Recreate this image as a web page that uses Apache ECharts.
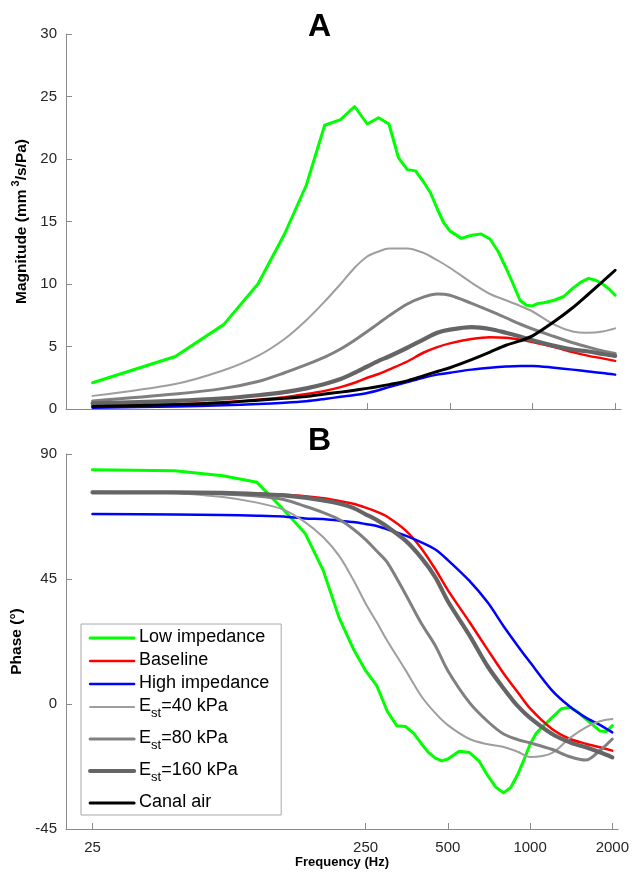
<!DOCTYPE html>
<html><head><meta charset="utf-8">
<script src="https://cdn.jsdelivr.net/npm/echarts@6/dist/echarts.min.js"></script>
<style>html,body{margin:0;padding:0;background:#fff}#c{width:632px;height:875px}</style>
</head><body><div id="c"></div>
<script>
// ---------- data ----------
const freq = [25,50,75,100,125,150,175,200,225,250,275,300,350,400,450,500,600,700,800,900,1000,1200,1400,1600,1800,2000];
const freqGreen = [25,50,75,100,125,150,175,200,225,250,275,300,325,350,375,400,425,450,475,500,550,600,650,700,750,800,850,900,950,1000,1050,1100,1200,1300,1400,1500,1600,1700,1800,1900,2000];
const xTicks = [25,250,500,1000,2000];
const seriesNames = ['Low impedance','Baseline','High impedance','Est=40 kPa','Est=80 kPa','Est=160 kPa','Canal air'];

// Magnitude (mm^3/s/Pa)
const magLow = [2.1,4.2,6.75,10.0,14.0,17.9,22.7,23.15,24.2,22.8,23.3,22.8,20.1,19.15,19.05,18.2,17.3,16.0,14.9,14.25,13.65,13.9,14.0,13.6,12.6,11.3,10.0,8.7,8.3,8.25,8.45,8.5,8.7,9.0,9.65,10.15,10.45,10.3,10.0,9.6,9.1];
const magBase = [0.22,0.38,0.55,0.75,0.95,1.2,1.45,1.75,2.1,2.5,2.8,3.15,3.8,4.5,4.95,5.25,5.6,5.75,5.7,5.55,5.35,4.95,4.55,4.25,4.05,3.85];
const magHigh = [0.1,0.2,0.3,0.4,0.5,0.62,0.8,0.98,1.12,1.28,1.5,1.75,2.15,2.5,2.75,2.9,3.15,3.3,3.4,3.45,3.45,3.3,3.15,3.0,2.88,2.75];
const magE40 = [1.05,2.0,3.1,4.25,5.6,7.1,8.6,10.0,11.3,12.2,12.6,12.85,12.85,12.5,11.9,11.3,10.1,9.2,8.7,8.25,7.8,6.75,6.2,6.1,6.2,6.45];
const magE80 = [0.65,1.2,1.65,2.2,2.9,3.55,4.15,4.8,5.5,6.2,6.85,7.45,8.4,8.95,9.2,9.1,8.45,7.85,7.3,6.8,6.4,5.8,5.3,4.95,4.65,4.45];
const magE160 = [0.45,0.65,0.85,1.1,1.35,1.65,2.0,2.4,2.9,3.4,3.85,4.2,4.9,5.55,6.1,6.35,6.55,6.4,6.1,5.8,5.5,5.05,4.75,4.6,4.4,4.25];
const magCanal = [0.2,0.35,0.5,0.7,0.85,1.0,1.2,1.35,1.5,1.65,1.8,1.95,2.25,2.65,3.0,3.3,3.95,4.55,5.1,5.45,5.85,7.0,8.1,9.2,10.2,11.1];

// Phase (deg)
const phLow = [84.3,84.0,82.2,79.8,70,61.5,48,31,20,12,6.5,-2.6,-7.8,-8.1,-10.6,-14.3,-17.5,-19.5,-20.5,-19.8,-17.0,-17.5,-20.5,-25.8,-30.0,-32.0,-30.0,-25.5,-20.0,-14.5,-10.7,-8.6,-5.0,-1.7,-1.2,-3.0,-5.4,-7.6,-9.7,-9.9,-7.8];
const phBase = [76.2,76.2,76.0,75.7,75.3,74.8,74.1,73.1,72.1,70.7,69.2,67.4,62.5,56,48.5,41,29.5,19.5,11,4.3,-1.6,-8.9,-12.6,-14.3,-15.6,-16.8];
const phHigh = [68.4,68.2,68.0,67.8,67.5,66.8,66.6,66.0,65.5,64.8,64.1,62.9,60.6,58.2,55.6,51.8,44.3,36.5,28,21,15,5,-1.0,-4.9,-7.5,-10.2];
const phE40 = [76.2,75.9,74.5,72.5,70.0,65.5,60.0,53.3,44.8,36.2,29.3,22.8,12.2,2.8,-3.3,-7.6,-12.6,-14.5,-15.5,-17.2,-19.1,-17.7,-12.2,-8.4,-6.2,-5.4];
const phE80 = [76.2,76.1,75.6,74.9,73.6,71.2,68.9,66.4,63,59.2,55,51,39.5,29,21,12,0.5,-6.3,-10.8,-12.8,-14.0,-16.3,-19.0,-20.2,-16.8,-12.6];
const phE160 = [76.2,76.2,76.0,75.6,75.1,74.3,73.3,72.2,70.6,68.3,66.2,63.8,58.8,52.6,45.6,37,24.7,13.5,5.6,-0.7,-5.0,-10.7,-13.8,-15.6,-17.4,-19.2];

// ---------- styles ----------
const FONT = '"Liberation Sans", Arial, Helvetica, sans-serif';
const AXIS_GRAY = '#8a8a8a';
const lineStyles = {
  'Low impedance': {color:'#00ff00', width:3},
  'Baseline': {color:'#ff0000', width:2.5},
  'High impedance': {color:'#0000ff', width:2.5},
  'Est=40 kPa': {color:'#9e9e9e', width:2},
  'Est=80 kPa': {color:'#808080', width:3},
  'Est=160 kPa': {color:'#656565', width:4.2},
  'Canal air': {color:'#000000', width:3}
};

const pairs = (xs, ys) => xs.map((x, i) => [x, ys[i]]);
const panelA = [
  ['Low impedance', freqGreen, magLow],
  ['Baseline', freq, magBase],
  ['High impedance', freq, magHigh],
  ['Est=40 kPa', freq, magE40],
  ['Est=80 kPa', freq, magE80],
  ['Est=160 kPa', freq, magE160],
  ['Canal air', freq, magCanal]
];
const panelB = [
  ['Low impedance', freqGreen, phLow],
  ['Baseline', freq, phBase],
  ['High impedance', freq, phHigh],
  ['Est=40 kPa', freq, phE40],
  ['Est=80 kPa', freq, phE80],
  ['Est=160 kPa', freq, phE160]
];

function mkSeries(def, idx) {
  const [name, xs, ys] = def;
  const st = lineStyles[name];
  return {
    type: 'line', name, xAxisIndex: idx, yAxisIndex: idx,
    data: pairs(xs, ys), symbol: 'none', showSymbol: false,
    smooth: name === 'Low impedance' ? false : 0.3,
    lineStyle: {color: st.color, width: st.width, cap: 'round', join: 'round'},
    itemStyle: {color: st.color},
    emphasis: {disabled: true}, animation: false, z: 2
  };
}

function xAxisDef(gridIndex, showLabels) {
  return {
    type: 'log', logBase: 10, gridIndex, min: 20, max: 2100,
    axisLine: {show: true, onZero: false, lineStyle: {color: AXIS_GRAY, width: 1}},
    axisTick: {show: true, inside: true, length: 6, customValues: xTicks, lineStyle: {color: AXIS_GRAY}},
    axisLabel: {show: showLabels, customValues: xTicks, fontFamily: FONT, fontSize: 15, color: '#262626', margin: 11,
      formatter: v => String(Math.round(v))},
    minorTick: {show: false}, splitLine: {show: false}, minorSplitLine: {show: false},
    name: showLabels ? 'Frequency (Hz)' : '', nameLocation: 'middle', nameGap: 27,
    nameTextStyle: {fontFamily: FONT, fontSize: 13, fontWeight: 'bold', color: '#000'}
  };
}

function yAxisDef(gridIndex, min, max, interval, name) {
  return {
    type: 'value', gridIndex, min, max, interval,
    axisLine: {show: true, onZero: false, lineStyle: {color: AXIS_GRAY, width: 1}},
    axisTick: {show: true, inside: true, length: 6, lineStyle: {color: AXIS_GRAY}},
    axisLabel: {fontFamily: FONT, fontSize: 15, color: '#262626', margin: 9},
    splitLine: {show: false},
    name, nameLocation: 'middle', nameRotate: 90, nameGap: 33,
    nameTextStyle: {fontFamily: FONT, fontSize: 15.5, fontWeight: 'bold', color: '#000',
      rich: {sup: {fontFamily: FONT, fontSize: 11, fontWeight: 'bold', color: '#000', padding: [0,0,10,3]},
             b: {fontFamily: FONT, fontSize: 15.5, fontWeight: 'bold', color: '#000'}}}
  };
}

const chart = echarts.init(document.getElementById('c'), null, {renderer: 'canvas'});
chart.setOption({
  animation: false,
  backgroundColor: '#ffffff',
  title: [
    {text: 'A', left: 308, top: 11, padding: 0, textStyle: {fontFamily: FONT, fontSize: 32, fontWeight: 'bold', color: '#000'}},
    {text: 'B', left: 308, top: 425, padding: 0, textStyle: {fontFamily: FONT, fontSize: 32, fontWeight: 'bold', color: '#000'}}
  ],
  grid: [
    {left: 66, right: 11, top: 34, height: 375, containLabel: false},
    {left: 66, right: 11, top: 454, height: 375, containLabel: false}
  ],
  xAxis: [xAxisDef(0, false), xAxisDef(1, true)],
  yAxis: [
    yAxisDef(0, 0, 30, 5, '{b|Magnitude (mm}{sup|3}{b|/s/Pa)}'),
    yAxisDef(1, -45, 90, 45, 'Phase (°)')
  ],
  legend: {
    orient: 'vertical', left: 81, top: 624,
    padding: [4, 12, 4, 7], itemGap: 5, itemWidth: 44, itemHeight: 12,
    backgroundColor: '#ffffff', borderColor: '#a8a8a8', borderWidth: 1, borderRadius: 0,
    selectedMode: false,
    data: seriesNames.map(n => ({name: n, lineStyle: {width: lineStyles[n].width, color: lineStyles[n].color}})),
    lineStyle: {width: 'inherit'},
    itemStyle: {opacity: 0},
    formatter: n => n.startsWith('Est') ? '{n|E}{s|st}{n|' + n.slice(3) + '}' : '{n|' + n + '}',
    textStyle: {fontFamily: FONT, fontSize: 18, color: '#000',
      rich: {
        n: {fontFamily: FONT, fontSize: 18, lineHeight: 20, verticalAlign: 'top', color: '#000'},
        s: {fontFamily: FONT, fontSize: 13, lineHeight: 10, verticalAlign: 'top', padding: [10, 0, 4, 0], color: '#000'}
      }}
  },
  series: panelA.map(d => mkSeries(d, 0)).concat(panelB.map(d => mkSeries(d, 1)))
});
</script>
</body></html>
